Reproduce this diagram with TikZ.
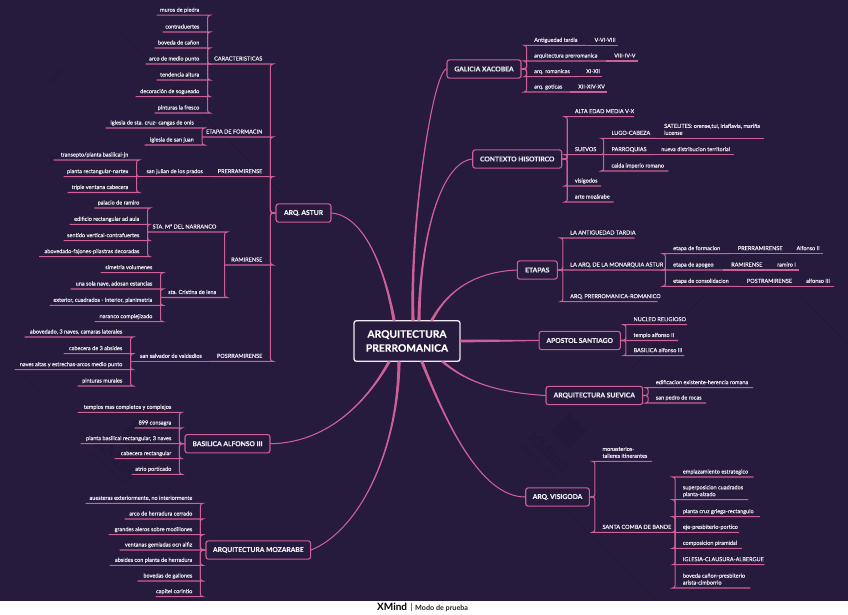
\documentclass[tikz,border=0pt]{standalone}
\usepackage{fontspec}
\setmainfont{Lato}
\newfontfamily\leaffont{Lato}[RawFeature={embolden=0.12}]
\newfontfamily\topicfont{Lato Bold}[RawFeature={embolden=0.3}]
\definecolor{bgc}{HTML}{261B3C}
\definecolor{pinkc}{HTML}{CE5F98}
\definecolor{txtc}{HTML}{EDEBF2}
\definecolor{wmk}{HTML}{221837}
\tikzset{
  lf/.style={inner xsep=0pt,inner ysep=3.3pt,text depth=0pt,text=txtc,font=\leaffont\fontsize{5.55}{6.9}\selectfont},
  conn/.style={draw=pinkc,line width=1.05pt,rounded corners=2.5pt},
  topic/.style={draw=pinkc,line width=1.1pt,rounded corners=2.5pt,fill=bgc,inner sep=0pt,text=txtc,
     font=\topicfont\fontsize{6.7}{8}\selectfont,minimum height=18.3pt},
  centre/.style={draw=txtc,line width=1.3pt,rounded corners=2.5pt,fill=bgc,inner sep=0pt,text=white,align=center,
     font=\topicfont\fontsize{10.3}{14}\selectfont,minimum width=106pt,minimum height=40.6pt},
  maincurve/.style={fill=pinkc,draw=pinkc,line width=1pt,line join=round},
  wmtext/.style={text=wmk,rotate=-43,inner sep=0pt,align=center},
  wmline/.style={draw=wmk,line width=.8pt}
}
% left-hand leaf: name, x left, x right, y of underline, text
\newcommand\LN[5]{\pgfmathsetlengthmacro\lfw{(#3-#2)*1pt}%
  \node[lf,anchor=south east] (#1) at (#3,#4) {\makebox[\lfw][r]{#5\hspace{8.5pt}}};}
% right-hand leaf
\newcommand\RN[5]{\pgfmathsetlengthmacro\lfw{(#3-#2)*1pt}%
  \node[lf,anchor=south west] (#1) at (#2,#4) {\parbox[b]{\lfw}{\raggedright\leftskip=8pt\relax\rightskip=-40pt plus 1fil\relax #5}};}
% connectors
\newcommand\LT[2]{\draw[conn] (#1.west) -- ++(-5pt,0pt) |- (#2.south east) -- (#2.south west);}
\newcommand\RT[2]{\draw[conn] (#1.east) -- ++(5pt,0pt) |- (#2.south west) -- (#2.south east);}
\newcommand\LS[2]{\draw[conn] (#1.south west) |- (#2.south east) -- (#2.south west);}
\newcommand\RS[2]{\draw[conn] (#1.south east) |- (#2.south west) -- (#2.south east);}
\newcommand\Chain[2]{\draw[conn] (#1.south east) -- (#2.south east);}
\newcommand\ChainL[2]{\draw[conn] (#1.south west) -- (#2.south west);}
% tapered main branch
\newcommand\Tap[4]{\path[maincurve] ([xshift=-1.1pt]#1) .. controls (#2) and (#3) .. (#4) .. controls (#3) and (#2) .. ([xshift=1.1pt]#1) -- cycle;}
\begin{document}
\begin{tikzpicture}[x=1pt,y=-1pt]
\useasboundingbox (0,0) rectangle (848,615);
\fill[bgc] (0,0) rectangle (848,600.7);
\fill[white] (0,600.7) rectangle (848,615);
% faint background pattern
\draw[wmline] (6,125) -- (105,27);
\draw[wmline] (116,27) -- (280,192);
\draw[wmline] (303,270) -- (183,390);
\draw[wmline] (5,355) -- (38,390);
\draw[wmline] (50,400) -- (135,485);
\draw[wmline] (5,590) -- (80,515);
\draw[wmline] (430,125) -- (510,45);
\draw[wmline] (795,290) -- (848,345);
\draw[wmline] (710,290) -- (630,370);
\draw[wmline] (565,510) -- (655,600);
% watermarks
\begin{scope}[y=1pt]
\node[wmtext] (wm1) at (545,-456) {{\fontsize{17}{17}\selectfont\bfseries XMind}\\[-2pt]{\fontsize{6.5}{7}\selectfont Modo de prueba}};
\node[wmtext] (wm3) at (114,-462) {{\fontsize{17}{17}\selectfont\bfseries XMind}\\[-2pt]{\fontsize{6.5}{7}\selectfont Modo de prueba}};
\end{scope}
\fill[wmk] (568,413) -- (586,431) -- (568,449) -- (550,431) -- cycle;
\fill[wmk] (137,419) -- (155,437) -- (137,455) -- (119,437) -- cycle;
% centre and main topics
\node[centre] (ctr) at (407,341) {ARQUITECTURA\\PRERROMANICA};
\node[topic,minimum width=55pt] (ast) at (303.5,213) {ARQ. ASTUR};
\node[topic,minimum width=85pt] (bas) at (227.5,443.7) {BASILICA ALFONSO III};
\node[topic,minimum width=104.7pt] (moz) at (258.3,550) {ARQUITECTURA MOZARABE};
\node[topic,minimum width=74pt] (gal) at (484,69) {GALICIA XACOBEA};
\node[topic,minimum width=89pt] (ctx) at (517.2,159) {CONTEXTO HISOTIRCO};
\node[topic,minimum width=40pt] (etp) at (537.3,270) {ETAPAS};
\node[topic,minimum width=81.3pt] (apo) at (579.7,340.5) {APOSTOL SANTIAGO};
\node[topic,minimum width=96.7pt] (sue) at (594.3,395.5) {ARQUITECTURA SUEVICA};
\node[topic,minimum width=63.6pt] (vis) at (557.5,497) {ARQ. VISIGODA};
% main branches
\coordinate (s-ast) at ([xshift=-13pt]ctr.north);
\coordinate (s-gal) at ([xshift=6pt]ctr.north);
\coordinate (s-ctx) at ([xshift=12pt]ctr.north);
\coordinate (s-etp) at ([xshift=25pt]ctr.north);
\coordinate (s-sue) at ([xshift=36pt]ctr.south);
\coordinate (s-vis) at ([xshift=15pt]ctr.south);
\coordinate (s-bas) at ([xshift=-18pt]ctr.south);
\coordinate (s-moz) at ([xshift=-8pt]ctr.south);
\Tap{s-ast}{385,270}{365,216}{ast.east}
\Tap{s-gal}{410,220}{433,72}{gal.west}
\Tap{s-ctx}{420,240}{440,163}{ctx.west}
\Tap{s-etp}{448,290}{475,272}{etp.west}
\Tap{s-sue}{470,385}{505,393}{sue.west}
\Tap{s-vis}{445,420}{480,497}{vis.west}
\Tap{s-bas}{365,405}{325,443}{bas.east}
\Tap{s-moz}{398,450}{360,530}{moz.east}
\path[maincurve] ([yshift=-1pt]ctr.east) -- (apo.west) -- ([yshift=1pt]ctr.east) -- cycle;
% ARQ. ASTUR
\LN{car}{208}{271}{64}{CARACTERISTICAS}
\LN{c1}{157}{208}{15.2}{muros de piedra}
\LN{c2}{163}{208}{32}{contraduertes}
\LN{c3}{155}{208}{48}{boveda de cañon}
\LN{c4}{146}{208}{64}{arco de medio punto}
\LN{c5}{157}{208}{80}{tendencia altura}
\LN{c6}{136}{208}{96.7}{decoración de sogueado}
\LN{c7}{155}{208}{113}{pinturas la fresco}
\LN{fm}{202.5}{271}{137}{ETAPA DE FORMACIN}
\LN{f1}{106}{202.5}{128}{iglesia de sta. cruz- cangas de onis}
\LN{f2}{145}{202.5}{145}{iglesia de san juan}
\LN{pre}{211.5}{271}{176.7}{PRERRAMIRENSE}
\LN{sj}{137}{211.5}{176.7}{san julian de los prados}
\LN{j1}{54}{137}{160}{transepto/planta basilical-jn}
\LN{j2}{64}{137}{176.7}{planta rectangular-nartex}
\LN{j3}{68}{137}{192.5}{triple ventana cabecera}
\LN{ram}{225}{271}{265}{RAMIRENSE}
\LN{nar}{148}{225}{232}{STA. Mª DEL NARRANCO}
\LN{n1}{94.7}{148}{208}{palacio de ramiro}
\LN{n2}{70}{148}{224.3}{edificio rectangular ad aula}
\LN{n3}{64}{148}{240.7}{sentido vertical-contrafuertes}
\LN{n4}{39.5}{148}{256.7}{abovedado-fajones-pilastras decoradas}
\LN{cri}{161}{225}{297.5}{sta. Cristina de lena}
\LN{k1}{101}{161}{272.7}{simetria volumenes}
\LN{k2}{71}{161}{289}{una sola nave, adosan estancias}
\LN{k3}{50}{161}{305.3}{exterior, cuadrados - interior, planimetria}
\LN{k4}{95}{161}{321.7}{naranco complejizado}
\LN{pos}{210.5}{271}{361.3}{POSRRAMIRENSE}
\LN{sv}{131}{210.5}{361.3}{san salvador de valdedios}
\LN{v1}{25}{131}{337}{abovedado, 3 naves, camaras laterales}
\LN{v2}{64}{131}{353.7}{cabecera de 3 absides}
\LN{v3}{15}{131}{369.7}{naves altas y estrechas-arcos medio punto}
\LN{v4}{78}{131}{386}{pinturas murales}
\foreach \n in {car,fm,pre,ram,pos} {\LT{ast}{\n}}
\foreach \n in {c1,c2,c3,c4,c5,c6,c7} {\LS{car}{\n}}
\foreach \n in {f1,f2} {\LS{fm}{\n}}
\ChainL{pre}{sj}
\foreach \n in {j1,j2,j3} {\LS{sj}{\n}}
\foreach \n in {nar,cri} {\LS{ram}{\n}}
\foreach \n in {n1,n2,n3,n4} {\LS{nar}{\n}}
\foreach \n in {k1,k2,k3,k4} {\LS{cri}{\n}}
\ChainL{pos}{sv}
\foreach \n in {v1,v2,v3,v4} {\LS{sv}{\n}}
% BASILICA
\LN{b1}{78}{180}{412.3}{templos mas completos y complejos}
\LN{b2}{135}{180}{428}{899 consagra}
\LN{b3}{81}{180}{443.7}{planta basilical rectangular, 3 naves}
\LN{b4}{115}{180}{458.7}{cabecera rectangular}
\LN{b5}{132}{180}{474.3}{atrio porticado}
\foreach \n in {b1,b2,b3,b4,b5} {\LT{bas}{\n}}
% MOZARABE
\LN{m1}{86}{201}{503.3}{auesteras exteriormente, no interiormente}
\LN{m2}{125}{201}{519}{arco de herradura cerrado}
\LN{m3}{109}{201}{534.7}{grandes aleros sobre modillones}
\LN{m4}{120}{201}{550}{ventanas gemiadas ocn alfiz}
\LN{m5}{110}{201}{565.3}{absides con planta de herradura}
\LN{m6}{138}{201}{581}{bovedas de gallones}
\LN{m7}{156}{201}{596.7}{capitel corintio}
\foreach \n in {m1,m2,m3,m4,m5,m6,m7} {\LT{moz}{\n}}
% GALICIA
\RN{g1}{526}{586.3}{45.3}{Antiguedad tardia}
\RN{g1b}{586.3}{617.7}{45.3}{V-VI-VIII}
\RN{g2}{526}{606}{61}{arquitectura prerromanica}
\RN{g2b}{606}{638}{61}{VIII-IV-V}
\RN{g3}{526}{578}{76.7}{arq. romanicas}
\RN{g3b}{578}{602}{76.7}{XI-XII}
\RN{g4}{526}{570}{92}{arq. goticas}
\RN{g4b}{570}{607}{92}{XII-XIV-XV}
\foreach \n in {g1,g2,g3,g4} {\RT{gal}{\n}}
\Chain{g1}{g1b}\Chain{g2}{g2b}\Chain{g3}{g3b}\Chain{g4}{g4b}
% CONTEXTO
\RN{x1}{566.7}{633.7}{116.7}{ALTA EDAD MEDIA V-X}
\RN{x2}{566.7}{603.3}{154.7}{SUEVOS}
\RN{x3}{566.7}{600.7}{186}{visigodos}
\RN{x4}{566.7}{613.3}{202}{arte mozárabe}
\RN{l1}{603.3}{656}{138.3}{LUGO-CABEZA}
\RN{l1b}{656}{764}{138.3}{SATELITES: orense,tui, iriaflavia, mariña\\lucense}
\RN{l2}{603.3}{653}{154.7}{PARROQUIAS}
\RN{l2b}{653}{733.3}{154.7}{nueva distribucion territorial}
\RN{l3}{603.3}{668}{171}{caida imperio romano}
\foreach \n in {x1,x2,x3,x4} {\RT{ctx}{\n}}
\foreach \n in {l1,l2,l3} {\RS{x2}{\n}}
\Chain{l1}{l1b}\Chain{l2}{l2b}
% ETAPAS
\RN{e1}{562}{634.3}{238}{LA ANTIGUEDAD TARDIA}
\RN{e2}{562}{665}{270}{LA ARQ. DE LA MONARQUIA ASTUR}
\RN{e3}{562}{657.3}{301.7}{ARQ. PRERROMANICA-ROMANICO}
\RN{t1}{665}{729.7}{253.7}{etapa de formacion}
\RN{t1b}{729.7}{788.3}{253.7}{PRERRAMIRENSE}
\RN{t1c}{788.3}{822.7}{253.7}{Alfonso II}
\RN{t2}{665}{723}{270}{etapa de apogeo}
\RN{t2b}{723}{769}{270}{RAMIRENSE}
\RN{t2c}{769}{799}{270}{ramiro I}
\RN{t3}{665}{738.7}{286.3}{etapa de consolidacion}
\RN{t3b}{738.7}{798}{286.3}{POSTRAMIRENSE}
\RN{t3c}{798}{833.3}{286.3}{alfonso III}
\foreach \n in {e1,e2,e3} {\RT{etp}{\n}}
\foreach \n in {t1,t2,t3} {\RS{e2}{\n}}
\Chain{t1}{t1b}\Chain{t1b}{t1c}\Chain{t2}{t2b}\Chain{t2b}{t2c}\Chain{t3}{t3b}\Chain{t3b}{t3c}
% APOSTOL
\RN{a1}{625.3}{686.7}{324.7}{NUCLEO RELIGIOSO}
\RN{a2}{625.3}{677.7}{340.5}{templo alfonso II}
\RN{a3}{625.3}{684}{355.7}{BASILICA alfonso III}
\foreach \n in {a1,a2,a3} {\RT{apo}{\n}}
% SUEVICA
\RN{u1}{647.7}{752.7}{387.7}{edificacion existente-herencia romana}
\RN{u2}{647.7}{705.7}{403}{san pedro de rocas}
\foreach \n in {u1,u2} {\RT{sue}{\n}}
% VISIGODA
\RN{w1}{594.3}{651.7}{461.3}{monasterios-\\talleres itinerantes}
\RN{w2}{594.3}{674.7}{532.3}{SANTA COMBA DE BANDE}
\RN{w3}{674.7}{753}{477}{emplazamiento estrategico}
\RN{w4}{674.7}{748}{499.7}{superposicion cuadrados\\planta-alzado}
\RN{w5}{674.7}{759.5}{516.7}{planta cruz griega-rectangulo}
\RN{w6}{674.7}{738.7}{532.3}{eje-presbiterio-portico}
\RN{w7}{674.7}{741.7}{548.3}{composicion piramidal}
\RN{w8}{674.7}{764}{564.7}{IGLESIA-CLAUSURA-ALBERGUE}
\RN{w9}{674.7}{750}{588}{boveda cañon-presbiterio\\arista-cimborrio}
\foreach \n in {w1,w2} {\RT{vis}{\n}}
\foreach \n in {w3,w4,w5,w6,w7,w8,w9} {\RS{w2}{\n}}
% footer
\node[anchor=base west,inner sep=0pt,font=\fontsize{10}{10}\selectfont\bfseries,text=black] (xm) at (377,610.5) {XMind};
\draw[black!55,line width=.5pt] (411.5,602.5) -- (411.5,611);
\node[anchor=base west,inner sep=0pt,font=\fontsize{7.2}{8}\selectfont\bfseries,text=black!85] (mp) at (415,610.2) {Modo de prueba};
\end{tikzpicture}
\end{document}
